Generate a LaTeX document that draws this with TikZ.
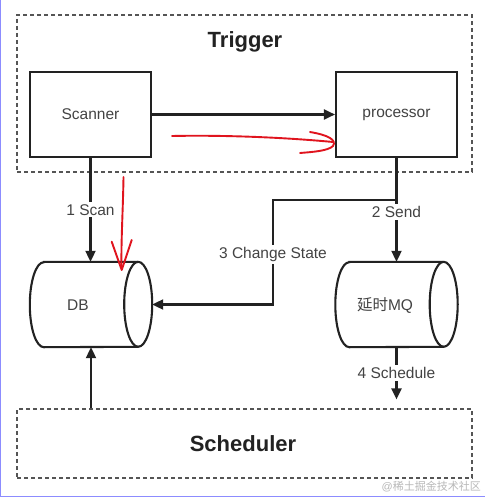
\documentclass[tikz,border=0pt]{standalone}
\usepackage{fontspec}
\setmainfont{Liberation Sans}
\newfontfamily\cjk{Noto Sans CJK SC}
\usetikzlibrary{arrows.meta}
\definecolor{ink}{HTML}{222222}
\definecolor{dashgray}{HTML}{555555}
\definecolor{redpen}{HTML}{E0141E}
\tikzset{
  box/.style={draw=ink, line width=2.1pt, minimum width=121pt, minimum height=85pt, inner sep=0pt, font=\fontsize{15.5}{18}\selectfont, text=ink!85},
  group/.style={draw=dashgray, line width=1.2pt, dash pattern=on 4pt off 3pt, inner sep=0pt},
  title/.style={font=\fontsize{22}{26}\selectfont\bfseries, text=ink},
  conn/.style={draw=ink, line width=2.1pt},
  arr/.style={conn, -{Triangle[length=11pt,width=10pt]}},
  lbl/.style={fill=white, inner sep=2pt, font=\fontsize{15.5}{18}\selectfont, text=ink!85},
  cyltext/.style={font=\fontsize{15.5}{18}\selectfont, text=ink!85},
  pen/.style={draw=redpen, line width=1.9pt, line cap=round, line join=round},
}
\begin{document}
\begin{tikzpicture}[x=1pt,y=-1pt]
\useasboundingbox (0,0) rectangle (485,497);
\fill[white] (0,0) rectangle (485,497);
\draw[color=blue!45, line width=1.2pt] (0.6,0) -- (0.6,496.4) -- (485,496.4);

% groups
\node[group, minimum width=455pt, minimum height=157pt] (trigger) at (244.5,93.5) {};
\node[title] (triggertxt) at (245,42) {Trigger};
\node[group, minimum width=455pt, minimum height=69pt] (scheduler) at (244.5,443.5) {};
\node[title] (schedtxt) at (243,444) {Scheduler};

% boxes
\node[box] (scanner) at (90.5,114.5) {Scanner};
\node[box] (processor) at (396.5,114.5) {processor};

% cylinders (shape frames)
\node[minimum width=122pt, minimum height=85pt, inner sep=0pt] (db) at (91,304.5) {};
\node[minimum width=122pt, minimum height=85pt, inner sep=0pt] (mq) at (396.5,304.5) {};
\foreach \c in {db,mq}{
  \draw[conn]
    ([xshift=14pt]\c.north west) -- ([xshift=-14pt]\c.north east)
    arc (90:-90:14pt and 42.5pt)
    -- ([xshift=14pt]\c.south west)
    arc (270:90:14pt and 42.5pt) -- cycle;
  \draw[conn] ([xshift=-14pt]\c.north east) arc (90:270:14pt and 42.5pt);
}
\node[cyltext] (dbtxt) at (78,305) {DB};
\node[cyltext] (mqtxt) at (385,305) {{\cjk 延时}MQ};

% connectors
\draw[arr] (scanner.east) -- (processor.west);
\draw[arr] (scanner.south) -- node[lbl, pos=0.5] {1 Scan} (scanner.south |- db.north);
\draw[arr] (processor.south) -- node[lbl, pos=0.52] {2 Send} (mq.north);
\coordinate (split) at (396.5,200);
\coordinate (bend) at (273,200);
\draw[arr] (split) -- (bend) |- node[lbl, pos=0.26] {3 Change State} (db.east);
\draw[arr, shorten >=9pt] (mq.south) -- node[lbl, pos=0.42] {4 Schedule} (mq.south |- scheduler.north);
\draw[arr] (scheduler.north -| db.south) -- (db.south);

% red hand annotations
\draw[pen] (172,136) .. controls (220,135) and (280,137) .. (333,142);
\draw[pen] (310,132) .. controls (328,135) and (337,140) .. (333,146) .. controls (328,151) and (312,152) .. (300,153);
\draw[pen] (123.5,177) .. controls (123,210) and (121,240) .. (121.5,268);
\draw[pen] (111.7,241.7) -- (121.7,270) -- (131.7,240);

% watermark
\node[text=black!28, font=\fontsize{11}{13}\selectfont, anchor=east, inner sep=0pt] (wm) at (481,487) {@{\cjk 稀土掘金技术社区}};
\end{tikzpicture}
\end{document}
